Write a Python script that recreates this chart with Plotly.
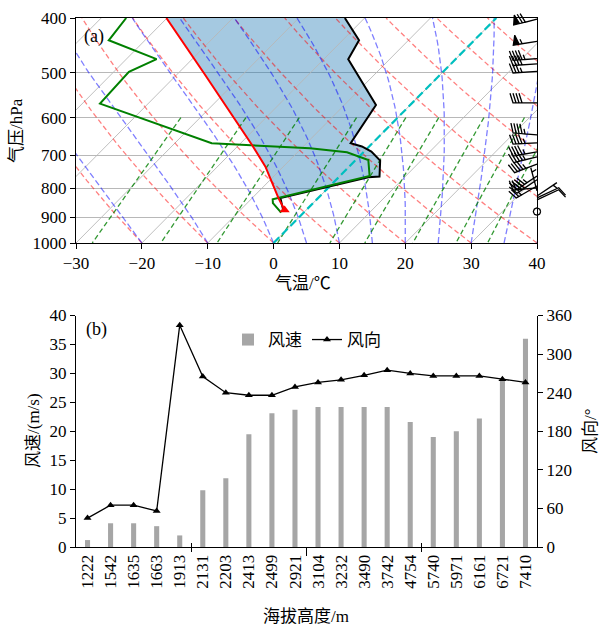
import numpy as np
import plotly.graph_objects as go

# ---------------- data ----------------
# (a) sounding
temp_p = [880, 833, 765, 763, 715, 689, 675, 666, 570, 473, 438, 400]
temp_t = [-3.2, -5.7, 4.5, 6.1, 3.8, 1.1, -1.1, -3.3, -5.2, -16.3, -17.5, -23.0]
dewp_p = [884, 850, 837, 761, 713, 691, 680, 666, 567, 498, 473, 438, 400]
dewp_t = [-3.4, -6.1, -6.7, 4.5, 1.9, -2.5, -8.7, -24.4, -47.3, -47.7, -45.4, -55.5, -56.2]
parcel_p = [874, 833, 733, 671, 500, 400]
parcel_t = [-3.3, -6.0, -12.7, -18.0, -36.2, -50.1]

# wind profile (barbs in (a), bars/line in (b))
heights = ["1222", "1542", "1635", "1663", "1913", "2131", "2203", "2413", "2499", "2921",
           "3104", "3232", "3490", "3742", "4754", "5740", "5971", "6161", "6721", "7410"]
barb_p = [880, 839, 832, 826, 809, 799, 793, 773, 761, 725,
          704, 690, 665, 644, 565, 497, 482, 472, 440, 402]
wind_speed = [1.2, 4.1, 4.1, 3.6, 2.0, 9.8, 11.9, 19.5, 23.1, 23.7,
              24.2, 24.2, 24.2, 24.2, 21.6, 19.0, 20.0, 22.2, 28.9, 36.0]
wind_dir = [45, 65, 65, 56, 345, 265, 240, 236, 236, 249,
            256, 260, 267, 275, 270, 266, 266, 266, 261, 256]

p_ticks = [400, 500, 600, 700, 800, 900, 1000]
t_ticks = list(range(-30, 41, 10))
speed_ticks = list(range(0, 41, 5))
dir_ticks = list(range(0, 361, 60))

# ---------------- layout geometry (page pixels) ----------------
W, H = 603, 626
ML, MR, MT = 76, 2, 2
X0, X1 = 76, 537            # plot area px (both panels)
YA0, YA1 = 18, 243          # panel a px
YB0, YB1 = 315.5, 547       # panel b px
MB = H - YB1
PW, PH = W - ML - MR, H - MT - MB
DX = (X1 - X0) / PW
dom_a = [(H - MB - YA1) / PH, (H - MB - YA0) / PH]
dom_b = [(H - MB - YB1) / PH, (H - MB - YB0) / PH]
TMIN, TMAX = -30, 40
PBOT, PTOP = 1000, 400
SKEW = 85.0

def px2x(px):
    return (px - ML) / PW

def py2y(py):
    return (H - MB - py) / PH

def skx(t, p):
    return np.asarray(t, float) + SKEW * np.log10(PBOT / np.asarray(p, float))

FONT = "Liberation Serif, Times New Roman, Noto Sans CJK SC, serif"
FS = 17

fig = go.Figure()

# ---- CIN shading between parcel and environment ----
fx = list(skx(parcel_t, parcel_p)) + list(skx(temp_t, temp_p))[::-1]
fy = list(parcel_p) + list(temp_p)[::-1]
fig.add_trace(go.Scatter(x=fx, y=fy, fill="toself", fillcolor="rgba(31,119,180,0.4)",
                         line=dict(width=0), mode="lines", hoverinfo="skip", showlegend=False))

def add_lines(xs_list, ys_list, color, width, dash):
    xs, ys = [], []
    for a, b in zip(xs_list, ys_list):
        xs += list(a) + [None]
        ys += list(b) + [None]
    fig.add_trace(go.Scatter(x=xs, y=ys, mode="lines", line=dict(color=color, width=width, dash=dash),
                             hoverinfo="skip", showlegend=False))

# isotherms
iso = np.arange(-110, 41, 10)
pp2 = np.array([PBOT, PTOP])
add_lines([skx([t, t], pp2) for t in iso], [pp2] * len(iso), "#b8b8b8", 0.9, "solid")

# dry adiabats
Rd, Cp, Lv, eps = 287.04749, 1004.6662, 2.50084e6, 0.6219569
pgrid = np.linspace(PBOT, PTOP, 60)
dry_t0 = np.arange(TMIN, TMAX + 201, 10)
add_lines([skx((t0 + 273.15) * (pgrid / 1000.0) ** (Rd / Cp) - 273.15, pgrid) for t0 in dry_t0],
          [pgrid] * len(dry_t0), "rgba(255,0,0,0.5)", 1.3, "5px,3px")

# moist adiabats (pseudo-adiabatic lapse rate, RK4 in pressure)
def dTdp(p, T):
    es = 6.112 * np.exp(17.67 * (T - 273.15) / (T - 29.65))
    rs = eps * es / (p - es)
    return (Rd * T + Lv * rs) / (Cp + Lv * Lv * rs * eps / (Rd * T * T)) / p

moist_t0 = np.concatenate((np.arange(TMIN, 0, 10), np.arange(0, TMAX + 1, 5))).astype(float)
T = moist_t0 + 273.15
prof = [T.copy()]
for i in range(len(pgrid) - 1):
    p, h = pgrid[i], pgrid[i + 1] - pgrid[i]
    k1 = dTdp(p, T)
    k2 = dTdp(p + h / 2, T + h / 2 * k1)
    k3 = dTdp(p + h / 2, T + h / 2 * k2)
    k4 = dTdp(p + h, T + h * k3)
    T = T + h / 6 * (k1 + 2 * k2 + 2 * k3 + k4)
    prof.append(T.copy())
prof = np.array(prof) - 273.15
add_lines([skx(prof[:, j], pgrid) for j in range(len(moist_t0))], [pgrid] * len(moist_t0),
          "rgba(0,0,255,0.5)", 1.3, "6px,3px")

# mixing ratio lines
mix = [0.0004, 0.001, 0.002, 0.004, 0.007, 0.01, 0.016, 0.024, 0.032]
pm = np.linspace(600, PBOT, 30)
mx, my = [], []
for w in mix:
    e = pm * w / (eps + w)
    val = np.log(e / 6.112)
    td = 243.5 * val / (17.67 - val)
    mx.append(skx(td, pm)); my.append(pm)
add_lines(mx, my, "rgba(0,128,0,0.8)", 1.3, "5px,3px")

# 0 degC isotherm
fig.add_trace(go.Scatter(x=skx([0, 0], pp2), y=pp2, mode="lines",
                         line=dict(color="rgb(0,191,191)", width=2.2, dash="8px,4px"),
                         hoverinfo="skip", showlegend=False))

# profiles
fig.add_trace(go.Scatter(x=skx(temp_t, temp_p), y=temp_p, mode="lines",
                         line=dict(color="black", width=2), hoverinfo="skip", showlegend=False))
fig.add_trace(go.Scatter(x=skx(dewp_t, dewp_p), y=dewp_p, mode="lines",
                         line=dict(color="green", width=2), hoverinfo="skip", showlegend=False))
fig.add_trace(go.Scatter(x=skx(parcel_t, parcel_p), y=parcel_p, mode="lines",
                         line=dict(color="red", width=2), hoverinfo="skip", showlegend=False))
fig.add_trace(go.Scatter(x=skx(parcel_t[:1], parcel_p[:1]), y=parcel_p[:1], mode="markers",
                         marker=dict(symbol="triangle-up", size=9, color="red"),
                         hoverinfo="skip", showlegend=False))

# ---- wind barbs (matplotlib-style geometry, drawn on a pixel-scaled overlay axis) ----
BL = 24.0
spacing, fh, fw, erad = BL * 0.125, BL * 0.4, BL * 0.25, BL * 0.15
px_per_T = (X1 - X0) / (TMAX - TMIN)
px_per_dec = (YA1 - YA0) / np.log10(PBOT / PTOP)
bx, by, cx, cy = [], [], [], []
for p0, spd, d in zip(barb_p, wind_speed, wind_dir):
    kt = spd * 1.943844
    mag = 5 * np.round(kt / 5)
    nflag = int(mag // 50); mag -= nflag * 50
    nbarb = int(mag // 10); mag -= nbarb * 10
    half = mag >= 5
    if nflag == 0 and nbarb == 0 and not half:
        ang = np.linspace(0, 2 * np.pi, 40)
        cx += list(TMAX + erad * np.cos(ang) / px_per_T) + [None]
        cy += list(10 ** (np.log10(p0) - erad * np.sin(ang) / px_per_dec)) + [None]
        continue
    verts = [(0, 0)]
    off = BL
    for i in range(nflag):
        if off != BL:
            off += spacing / 2
        verts += [(0, off), (fh, off - fw / 2), (0, off - fw)]
        off -= fw + spacing
    for i in range(nbarb):
        verts += [(0, off), (fh, off + fw / 2), (0, off)]
        off -= spacing
    if half:
        if off == BL:
            verts.append((0, off)); off -= 1.5 * spacing
        verts += [(0, off), (fh / 2, off + fw / 4), (0, off)]
    verts.append((0, 0))
    rad = np.deg2rad(d)
    u, v = -np.sin(rad), -np.cos(rad)
    th = np.arctan2(v, u) + np.pi / 2
    for lx, ly in verts:
        rx = lx * np.cos(th) - ly * np.sin(th)
        ry = lx * np.sin(th) + ly * np.cos(th)
        bx.append(TMAX + rx / px_per_T)
        by.append(10 ** (np.log10(p0) - ry / px_per_dec))
    bx.append(None); by.append(None)

fig.add_trace(go.Scatter(x=bx, y=by, xaxis="x6", yaxis="y6", mode="lines", fill="toself",
                         fillcolor="black", line=dict(color="black", width=1.3),
                         hoverinfo="skip", showlegend=False))
fig.add_trace(go.Scatter(x=cx, y=cy, xaxis="x6", yaxis="y6", mode="lines",
                         line=dict(color="black", width=1.3), hoverinfo="skip", showlegend=False))

# ---------------- panel (b) ----------------
xpos = list(range(len(heights)))
fig.add_trace(go.Bar(x=xpos, y=wind_speed, xaxis="x2", yaxis="y2", name="风速",
                     marker=dict(color="#a6a6a6", line=dict(width=0)), width=0.22))
fig.add_trace(go.Scatter(x=xpos, y=wind_dir, xaxis="x2", yaxis="y3", name="风向", mode="lines+markers",
                         line=dict(color="black", width=1.3),
                         marker=dict(symbol="triangle-up", size=7, color="black")))

ax_common = dict(showline=True, linecolor="black", linewidth=1, ticks="outside", ticklen=5,
                 tickcolor="black", tickfont=dict(family=FONT, size=FS, color="black"),
                 zeroline=False, showgrid=False, automargin=False)

# extended pixel-scale ranges for overlay axis (barbs may reach past the frame)
x6_range = [TMIN, TMIN + PW / px_per_T]
y6_top = np.log10(PTOP) - (YA0 - MT) / px_per_dec

fig.update_layout(
    width=W, height=H, margin=dict(l=ML, r=MR, t=MT, b=MB, autoexpand=False),
    paper_bgcolor="white", plot_bgcolor="rgba(0,0,0,0)",
    font=dict(family=FONT, size=FS, color="black"),
    xaxis=dict(ax_common, domain=[0, DX], anchor="y", range=[TMIN, TMAX], tickvals=t_ticks,
               mirror=True),
    yaxis=dict(ax_common, domain=dom_a, anchor="x", type="log",
               range=[np.log10(PBOT), np.log10(PTOP)], tickvals=p_ticks,
               ticktext=[str(v) for v in p_ticks], mirror=True,
               showgrid=True, gridcolor="#b8b8b8", gridwidth=0.9),
    xaxis6=dict(domain=[0, 1], anchor="y6", range=x6_range, visible=False, fixedrange=True),
    yaxis6=dict(domain=[dom_a[0], 1], anchor="x6", type="log",
                range=[np.log10(PBOT), y6_top], visible=False, fixedrange=True),
    xaxis2=dict(ax_common, domain=[0, DX], anchor="y2", range=[-0.5, len(heights) - 0.5],
                tickvals=xpos, ticktext=heights, tickangle=-90, ticks=""),
    xaxis3=dict(overlaying="x2", anchor="y2", range=[-0.5, len(heights) - 0.5],
                tickvals=[4.5, 14.5], ticks="inside", ticklen=4, tickcolor="black",
                showticklabels=False, showline=False, showgrid=False, zeroline=False),
    xaxis4=dict(overlaying="x2", anchor="y2", range=[-0.5, len(heights) - 0.5],
                tickvals=[4.5, 14.5], ticks="outside", ticklen=4, tickcolor="black",
                showticklabels=False, showline=False, showgrid=False, zeroline=False),
    xaxis5=dict(overlaying="x2", anchor="y2", range=[-0.5, len(heights) - 0.5],
                tickvals=[9.5], ticks="outside", ticklen=8, tickcolor="black",
                showticklabels=False, showline=False, showgrid=False, zeroline=False),
    yaxis2=dict(ax_common, domain=dom_b, anchor="x2", range=[0, 40], tickvals=speed_ticks),
    yaxis3=dict(ax_common, overlaying="y2", side="right", anchor="x2", range=[0, 360],
                tickvals=dir_ticks),
    legend=dict(orientation="h", x=px2x(228), y=py2y(322), xanchor="left", yanchor="top",
                bgcolor="rgba(0,0,0,0)", font=dict(family=FONT, size=FS), itemwidth=30,
                traceorder="normal"),
    showlegend=True,
)

# dummy invisible traces so overlay tick axes are rendered
for ax in ["x3", "x4", "x5"]:
    fig.add_trace(go.Scatter(x=[0], y=[0], xaxis=ax, yaxis="y2", mode="markers",
                             marker=dict(opacity=0, size=1), hoverinfo="skip", showlegend=False))

ann = [
    dict(text="(a)", x=px2x(82), y=py2y(37), xanchor="left", yanchor="middle", font=dict(size=18)),
    dict(text="(b)", x=px2x(84), y=py2y(329), xanchor="left", yanchor="middle", font=dict(size=18)),
    dict(text="气压/hPa", x=px2x(17), y=py2y(131), textangle=-90, xanchor="center", yanchor="middle"),
    dict(text="气温/℃", x=px2x(303), y=py2y(283), xanchor="center", yanchor="middle"),
    dict(text="风速/(m/s)", x=px2x(33), y=py2y(431), textangle=-90, xanchor="center", yanchor="middle"),
    dict(text="风向/°", x=px2x(590), y=py2y(431), textangle=-90, xanchor="center", yanchor="middle"),
    dict(text="海拔高度/m", x=px2x(306), y=py2y(616), xanchor="center", yanchor="middle"),
]
for a in ann:
    a.update(xref="paper", yref="paper", showarrow=False)
    a.setdefault("font", dict(size=FS))
    a["font"] = dict(family=FONT, color="black", **a["font"])
fig.update_layout(annotations=ann)

# remove the default page margin so the figure sits at the window origin
fig.write_html("out.html", config={"displayModeBar": False},
               post_script="document.body.style.margin='0px';document.body.style.overflow='hidden';")
